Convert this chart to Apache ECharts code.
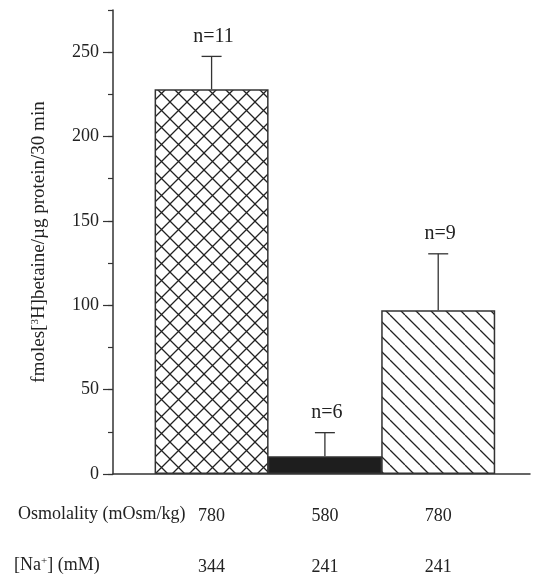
<!DOCTYPE html>
<html>
<head>
<meta charset="utf-8">
<script src="https://cdn.jsdelivr.net/npm/echarts@6/dist/echarts.min.js"></script>
<style>
  html, body { margin: 0; padding: 0; background: #fff; }
  #chart { width: 535px; height: 577px; }
</style>
</head>
<body>
<div id="chart"></div>
<script>
// data
const positions = [1, 2, 3]
const means = [228, 10.5, 97]
const errTops = [247.5, 24.5, 130.5]
const nLabels = ['n=11', 'n=6', 'n=9']
const osmolality = ['780', '580', '780']
const sodium = ['344', '241', '241']
const yTicks = [0, 50, 100, 150, 200, 250]

const FONT = '"Liberation Serif", "DejaVu Serif", serif'
const INK = '#222'

// hatch fills drawn on small canvases
function makePattern(size, cross) {
  const c = document.createElement('canvas')
  c.width = size
  c.height = size
  const ctx = c.getContext('2d')
  ctx.fillStyle = '#fff'
  ctx.fillRect(0, 0, size, size)
  ctx.strokeStyle = '#222'
  ctx.lineWidth = 1.3
  ctx.beginPath()
  for (let k = -1; k <= 1; k++) {
    ctx.moveTo(k * size, 0)
    ctx.lineTo(k * size + size, size)
    if (cross) {
      ctx.moveTo(k * size, size)
      ctx.lineTo(k * size + size, 0)
    }
  }
  ctx.stroke()
  return { image: c, repeat: 'repeat' }
}

const fills = [makePattern(17, true), '#1e1e1e', makePattern(15, false)]

const chart = echarts.init(document.getElementById('chart'))

const option = {
  animation: false,
  backgroundColor: '#fff',
  grid: { left: 113, right: 5, top: 10, bottom: 103 },
  xAxis: [
    {
      type: 'value',
      min: 0.13,
      max: 3.81,
      splitLine: { show: false },
      axisLine: { show: true, onZero: false, lineStyle: { color: '#333', width: 1.5 } },
      axisTick: { show: false },
      axisLabel: {
        customValues: positions,
        formatter: (v) => osmolality[Math.round(v) - 1],
        margin: 33,
        color: INK,
        fontFamily: FONT,
        fontSize: 18
      }
    },
    {
      type: 'value',
      min: 0.13,
      max: 3.81,
      position: 'bottom',
      splitLine: { show: false },
      axisLine: { show: false },
      axisTick: { show: false },
      axisLabel: {
        customValues: positions,
        formatter: (v) => sodium[Math.round(v) - 1],
        margin: 84,
        color: INK,
        fontFamily: FONT,
        fontSize: 18
      }
    }
  ],
  yAxis: [
    {
      type: 'value',
      min: 0,
      max: 275,
      splitLine: { show: false },
      axisLine: { show: true, lineStyle: { color: '#333', width: 1.5 } },
      axisTick: { show: true, customValues: yTicks, length: 10, lineStyle: { color: '#333', width: 1.2 } },
      axisLabel: {
        customValues: yTicks,
        margin: 14,
        color: INK,
        fontFamily: FONT,
        fontSize: 18
      },
      name: 'fmoles[{sup|3}H]betaine/µg protein/30 min',
      nameLocation: 'middle',
      nameGap: 64,
      nameTextStyle: {
        color: INK,
        fontFamily: FONT,
        fontSize: 19,
        rich: {
          sup: { fontFamily: FONT, fontSize: 11, verticalAlign: 'top', color: INK }
        }
      }
    },
    {
      type: 'value',
      min: 0,
      max: 275,
      interval: 25,
      position: 'left',
      splitLine: { show: false },
      axisLine: { show: false },
      axisLabel: { show: false },
      axisTick: { show: true, length: 5, lineStyle: { color: '#333', width: 1.2 } }
    }
  ],
  graphic: [
    {
      type: 'text',
      left: 18,
      top: 505,
      style: { text: 'Osmolality (mOsm/kg)', font: '18px ' + FONT, fill: INK }
    },
    {
      type: 'text',
      left: 14,
      top: 556,
      style: {
        text: '[Na{sup|+}] (mM)',
        font: '18px ' + FONT,
        fill: INK,
        rich: { sup: { fontSize: 11, verticalAlign: 'top', fill: INK, fontFamily: FONT } }
      }
    }
  ],
  series: [
    {
      type: 'bar',
      xAxisIndex: 0,
      yAxisIndex: 0,
      barWidth: 114,
      data: positions.map((p, i) => ({
        value: [p, means[i]],
        itemStyle: { color: fills[i], borderColor: '#333', borderWidth: 1.5 }
      }))
    },
    {
      type: 'custom',
      xAxisIndex: 0,
      yAxisIndex: 0,
      data: positions.map((p, i) => [p, means[i], errTops[i]]),
      renderItem: (params, api) => {
        const i = params.dataIndex
        const base = api.coord([api.value(0), api.value(1)])
        const top = api.coord([api.value(0), api.value(2)])
        const capHalf = 10
        const ls = { stroke: '#333', lineWidth: 1.3 }
        return {
          type: 'group',
          children: [
            { type: 'line', shape: { x1: base[0], y1: base[1], x2: top[0], y2: top[1] }, style: ls },
            { type: 'line', shape: { x1: top[0] - capHalf, y1: top[1], x2: top[0] + capHalf, y2: top[1] }, style: ls },
            {
              type: 'text',
              x: top[0] + 2,
              y: top[1] - 10,
              style: {
                text: nLabels[i],
                font: '20px ' + FONT,
                fill: INK,
                align: 'center',
                verticalAlign: 'bottom'
              }
            }
          ]
        }
      },
      z: 5
    }
  ]
}

chart.setOption(option)
</script>
</body>
</html>
